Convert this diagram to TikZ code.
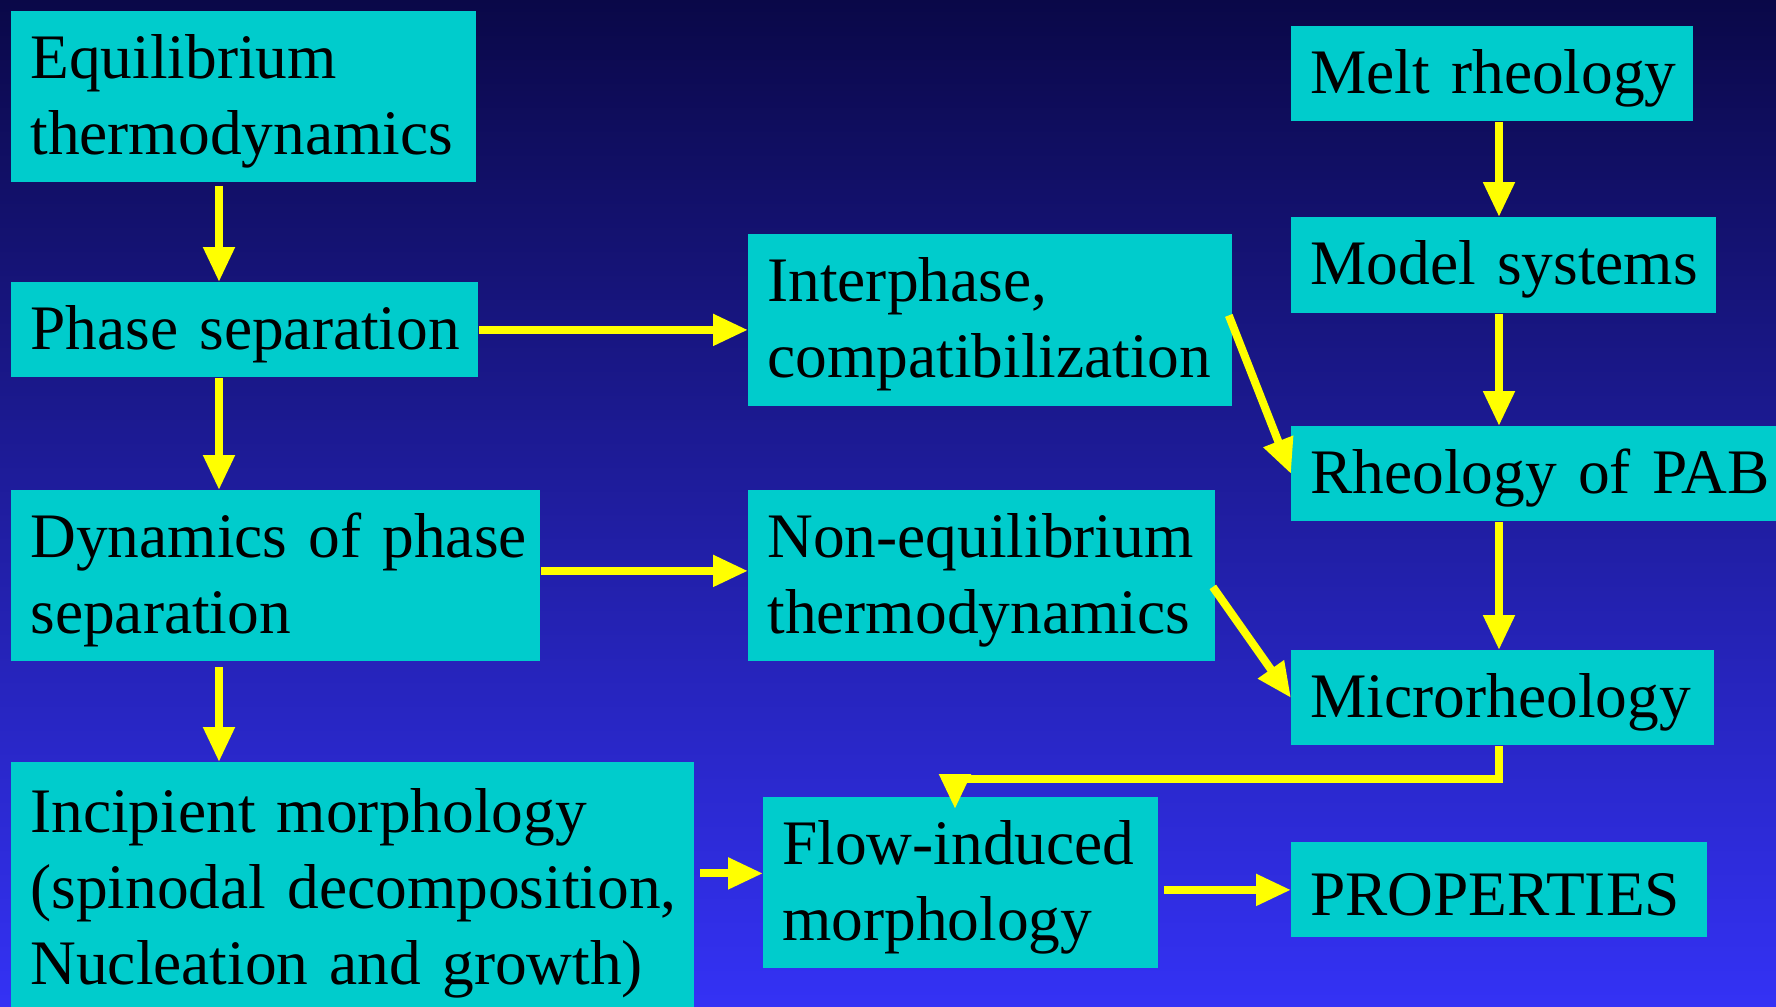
\documentclass[tikz,border=0pt]{standalone}
\usepackage{fontspec}
\setmainfont[WordSpace=0.85]{Liberation Serif}
\usetikzlibrary{arrows.meta}
\definecolor{bgtop}{RGB}{10,8,72}
\definecolor{bgbot}{RGB}{52,50,245}
\definecolor{boxc}{RGB}{0,204,204}
\definecolor{arrc}{RGB}{255,255,0}
\begin{document}
\begin{tikzpicture}[x=0.5pt,y=-0.5pt,
  box/.style={fill=boxc, draw=none, align=left, inner xsep=9.5pt, inner ysep=0pt,
    anchor=north west, font=\fontsize{31.7}{38}\selectfont,
    execute at begin node={\rule{0pt}{26pt}}},
  arr/.style={draw=arrc, line width=4pt, -{Triangle[length=17.5pt,width=15pt]}},
  seg/.style={draw=arrc, line width=4pt}]
\useasboundingbox (0,0) rectangle (1776,1006);
\clip (0,0) rectangle (1776,1006);
\shade[top color=bgtop, bottom color=bgbot] (0,0) rectangle (1776,1006);

\node[box, text width=213.5pt, minimum height=85.5pt] (eq) at (11,11) {\mbox{Equilibrium}\\\mbox{thermodynamics}};
\node[box, text width=214.5pt, minimum height=47.5pt] (ps) at (11,282) {\mbox{Phase separation}};
\node[box, text width=245.5pt, minimum height=85.5pt] (dyn) at (11,490) {\mbox{Dynamics of phase}\\\mbox{separation}};
\node[box, text width=322.5pt, minimum height=126.5pt] (inc) at (11,762) {\mbox{Incipient morphology}\\\mbox{(spinodal decomposition,}\\\mbox{Nucleation and growth)}};
\node[box, text width=223pt, minimum height=86pt] (inter) at (748,234) {\mbox{Interphase,}\\\mbox{compatibilization}};
\node[box, text width=214.5pt, minimum height=85.5pt] (noneq) at (748,490) {\mbox{Non-equilibrium}\\\mbox{thermodynamics}};
\node[box, text width=178.5pt, minimum height=85.5pt] (flow) at (763,797) {\mbox{Flow-induced}\\\mbox{morphology}};
\node[box, text width=182pt, minimum height=47.5pt] (melt) at (1291,26) {\mbox{Melt rheology}};
\node[box, text width=193.5pt, minimum height=48pt] (model) at (1291,217) {\mbox{Model systems}};
\node[box, text width=224pt, minimum height=47.5pt] (pab) at (1291,426) {\mbox{Rheology of PAB}};
\node[box, text width=192.5pt, minimum height=47.5pt] (micro) at (1291,650) {\mbox{Microrheology}};
\node[box, text width=189pt, minimum height=47.5pt] (prop) at (1291,842) {\mbox{PROPERTIES}};

% left column
\draw[arr] ([xshift=104pt,yshift=-1.5pt]eq.south west) -- ([xshift=104pt]ps.north west);
\draw[arr] ([xshift=104pt]ps.south west) -- ([xshift=104pt]dyn.north west);
\draw[arr] ([xshift=104pt,yshift=-2.5pt]dyn.south west) -- ([xshift=104pt]inc.north west);
% right column
\draw[arr] ([xshift=104pt]melt.south west) -- ([xshift=104pt]model.north west);
\draw[arr] ([xshift=104pt]model.south west) -- ([xshift=104pt]pab.north west);
\draw[arr] ([xshift=104pt]pab.south west) -- ([xshift=104pt]micro.north west);
% horizontal
\draw[arr] (ps.east) -- (ps.east -| inter.west);
\coordinate (dn) at ([yshift=2.5pt]dyn.east);
\draw[arr] (dn) -- (dn -| noneq.west);
\coordinate (fin) at ([yshift=4.75pt]flow.west);
\draw[arr, shorten <=2.5pt] (inc.east |- fin) -- (fin);
\draw[arr, shorten <=2.5pt] (flow.east |- prop.west) -- (prop.west);
% diagonals
\draw[arr] ([xshift=-2pt,yshift=2.5pt]inter.east) -- (pab.west);
\draw[arr] ([xshift=-1.5pt,yshift=-5.5pt]noneq.east) -- (micro.west);
% micro -> flow
\coordinate (ftip) at ([xshift=96pt,yshift=-6pt]flow.north west);
\coordinate (mc) at ([xshift=104pt,yshift=-16.5pt]micro.south west);
\draw[seg] ([xshift=104pt]micro.south west) -- (mc) -- (mc -| ftip);
\draw[arr] ([yshift=2pt]mc -| ftip) -- (ftip);
\end{tikzpicture}
\end{document}
